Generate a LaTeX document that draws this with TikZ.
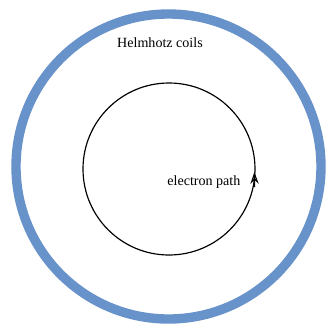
\documentclass[tikz,border=0pt]{standalone}
\usepackage{fontspec}
\setmainfont{Liberation Serif}
\usepackage{xcolor}
\usetikzlibrary{arrows.meta, positioning}
\definecolor{coilblue}{RGB}{104,146,202}
\tikzset{
    coil/.style={line width=8pt, coilblue},
    path/.style={line width=1pt, black},
    lbl/.style={inner sep=0pt, font=\fontsize{12}{14}\selectfont}
}

\begin{document}
\begin{tikzpicture}[x=0.03cm, y=-0.03cm]
    \useasboundingbox (0,0) rectangle (326,323);

    % Helmholtz coil ring
    \draw[coil] (168.5,166.5) circle (152.5);
    \node[lbl] (coils) at (160,43) {Helmhotz coils};

    % Electron orbit
    \draw[path] (169,169) circle (86);
    \coordinate (tail) at (254.6,187);
    \coordinate (head) at (254.4,172);
    \draw[path, -{Stealth[length=10pt, width=7pt, open]}] (tail) -- (head);
    \node[lbl, left=0.42cm of tail, yshift=0.15cm] (epath) {electron path};
\end{tikzpicture}
\end{document}
